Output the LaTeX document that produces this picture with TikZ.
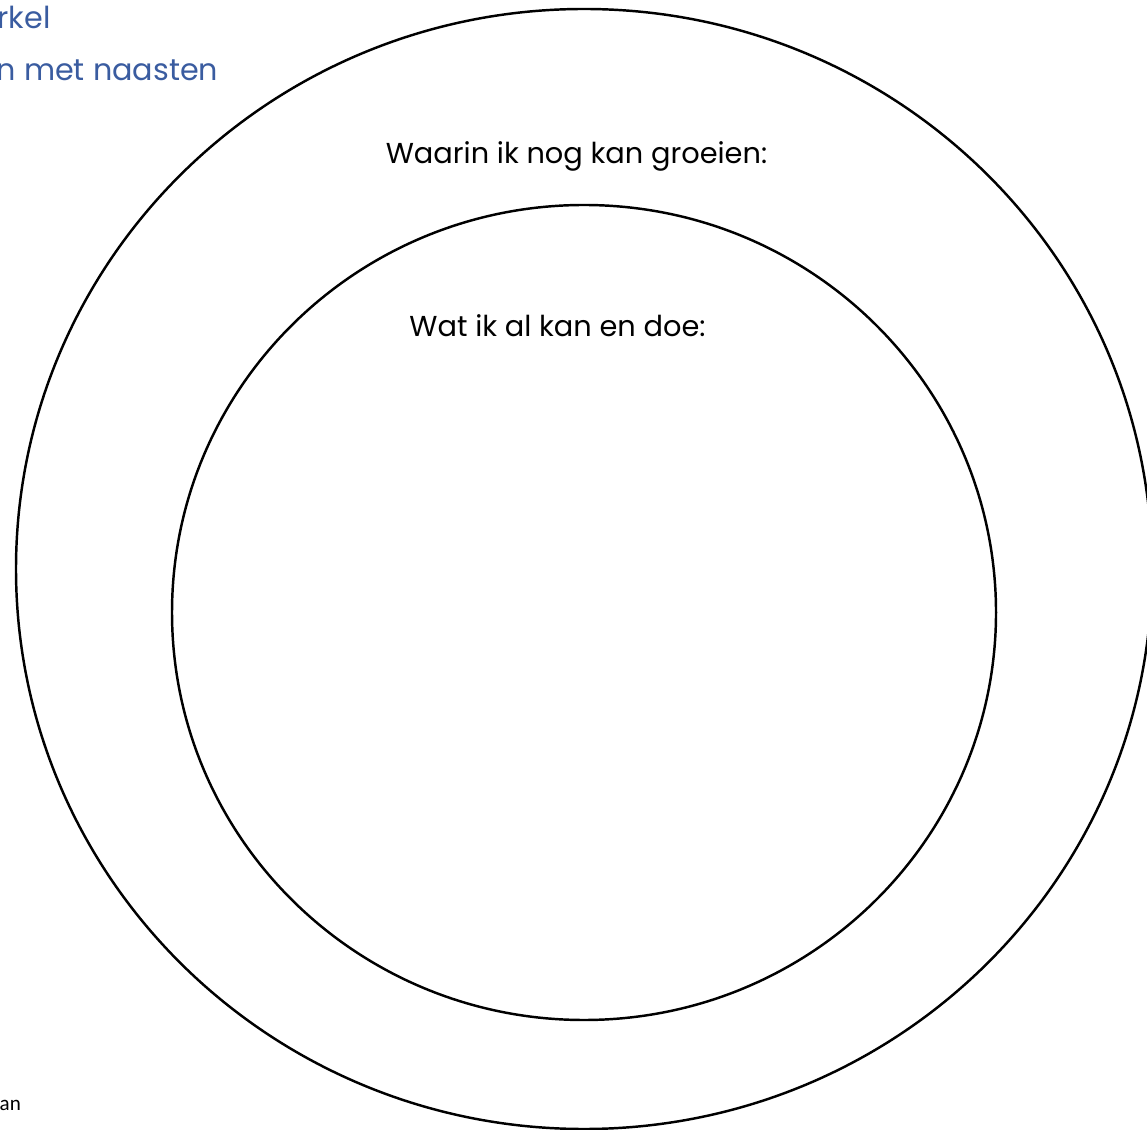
\documentclass[tikz,border=0pt]{standalone}
\usepackage{fontspec}
\setmainfont{Poppins}
\newfontfamily\notefont{Carlito}
\usepackage{tikz}
\usetikzlibrary{positioning}
\definecolor{titleblue}{HTML}{3A5CA0}

\begin{document}
\begin{tikzpicture}[
    ring/.style={draw, line width=0.7pt},
    label/.style={font=\fontsize{8.2pt}{9pt}\selectfont, anchor=base, inner sep=0pt},
    heading/.style={font=\fontsize{8.6pt}{10pt}\selectfont, text=titleblue, anchor=base west, inner sep=0pt}
]
    \useasboundingbox (0,0) rectangle (11.47,-11.30);
    \clip (0,0) rectangle (11.47,-11.30);
    % rings
    \draw[ring] (5.84,-5.69) ellipse [x radius=5.68cm, y radius=5.60cm];
    \draw[ring] (5.84,-6.125) ellipse [x radius=4.12cm, y radius=4.075cm];
    % labels
    \node[label] (grow) at (5.765,-1.64) {Waarin ik nog kan groeien:};
    \node[label] (done) at (5.575,-3.37) {Wat ik al kan en doe:};
    % cut-off heading and footer
    \node[heading] (head1) at (-0.03,-0.29) {rkel};
    \node[heading] (head2) at (-0.04,-0.81) {n met naasten};
    \node[font=\notefont\fontsize{6pt}{7pt}\selectfont, anchor=base west, inner sep=0pt] (foot) at (-0.01,-11.10) {an};
\end{tikzpicture}
\end{document}
